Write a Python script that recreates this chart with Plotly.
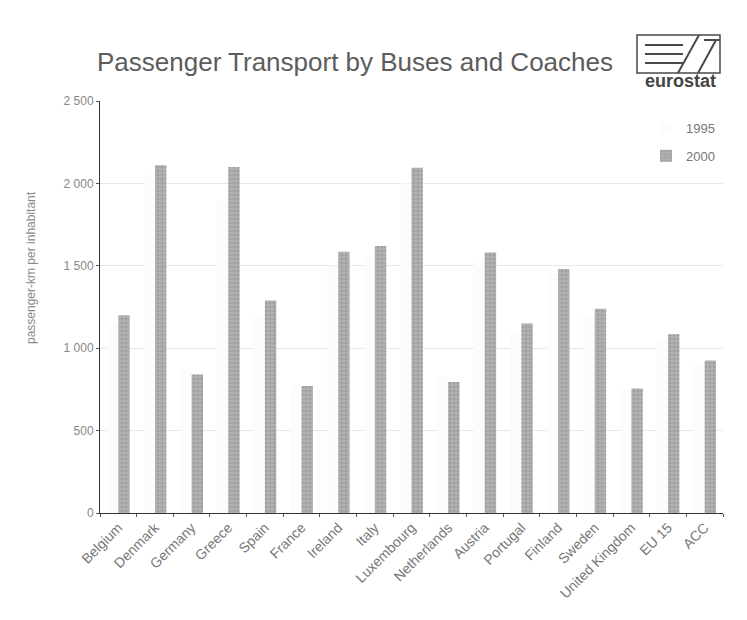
import plotly.graph_objects as go

# Passenger-km per inhabitant by bus and coach
countries = ["Belgium", "Denmark", "Germany", "Greece", "Spain", "France", "Ireland",
             "Italy", "Luxembourg", "Netherlands", "Austria", "Portugal", "Finland",
             "Sweden", "United Kingdom", "EU 15", "ACC"]
values_1995 = [1150, 2050, 880, 1900, 1200, 780, 1500, 1550, 2000, 830, 1550,
               1100, 1450, 1200, 750, 1050, 900]
values_2000 = [1200, 2110, 840, 2100, 1290, 770, 1585, 1620, 2095, 795, 1580,
               1150, 1480, 1240, 755, 1085, 925]
y_tickvals = [0, 500, 1000, 1500, 2000, 2500]
y_ticktext = ["0", "500", "1 000", "1 500", "2 000", "2 500"]

W, H = 747, 620
L, R, T, B = 100, 24, 101, 107
PW, PH = W - L - R, H - T - B


def px(x):
    return (x - L) / PW


def py(y):
    return (H - B - y) / PH


fig = go.Figure()
fig.add_trace(go.Bar(
    x=countries, y=values_1995, name="1995", legendgroup="a",
    marker=dict(color="#fcfcfc", line=dict(width=0)),
))
fig.add_trace(go.Bar(
    x=countries, y=values_2000, name="2000", legendgroup="b",
    marker=dict(color="#a6a6a6", line=dict(width=0),
                pattern=dict(shape=".", fgcolor="#8c8c8c", bgcolor="#b0b0b0",
                             size=4, solidity=0.35)),
))

grey = "#6a6a6a"
shapes = []
# logo frame and strokes
lc = "#4a4a4a"
shapes.append(dict(type="rect", xref="paper", yref="paper",
                   x0=px(637), x1=px(720), y0=py(73), y1=py(35),
                   line=dict(color=lc, width=1.5)))
for yy in (45, 54, 63):
    shapes.append(dict(type="line", xref="paper", yref="paper",
                       x0=px(645), x1=px(683), y0=py(yy), y1=py(yy),
                       line=dict(color=lc, width=2)))
shapes.append(dict(type="line", xref="paper", yref="paper",
                   x0=px(678), x1=px(699), y0=py(73), y1=py(35),
                   line=dict(color=lc, width=2)))
shapes.append(dict(type="line", xref="paper", yref="paper",
                   x0=px(698), x1=px(716), y0=py(73), y1=py(40),
                   line=dict(color=lc, width=2)))
shapes.append(dict(type="line", xref="paper", yref="paper",
                   x0=px(704), x1=px(720), y0=py(40), y1=py(40),
                   line=dict(color=lc, width=2)))

annotations = [
    dict(text="<b>eurostat</b>", xref="paper", yref="paper", x=px(680), y=py(81),
         xanchor="center", yanchor="middle", showarrow=False,
         font=dict(family="Arial, Liberation Sans", size=18, color="#444444")),
    dict(text="passenger-km per inhabitant", xref="paper", yref="paper",
         x=px(31), y=py(268), xanchor="center", yanchor="middle", textangle=-90,
         showarrow=False, font=dict(family="Arial, Liberation Sans", size=12, color="#888888")),
]

fig.update_layout(
    width=W, height=H,
    margin=dict(l=L, r=R, t=T, b=B, autoexpand=False),
    paper_bgcolor="white", plot_bgcolor="white",
    barmode="group", bargap=0.38, bargroupgap=0.0,
    font=dict(family="Arial, Liberation Sans", color=grey),
    title=dict(text="Passenger Transport by Buses and Coaches",
               x=355 / W, xanchor="center", xref="container",
               y=1 - 62 / H, yanchor="middle",
               font=dict(size=26, color="#5c5c5c")),
    legend=dict(x=px(720), xanchor="right", y=py(113), yanchor="top",
                bgcolor="rgba(0,0,0,0)", font=dict(size=13, color="#777777"),
                tracegroupgap=8, itemwidth=30),
    shapes=shapes,
    annotations=annotations,
    xaxis=dict(showline=True, linecolor="#333333", linewidth=1,
               ticks="outside", tickson="boundaries", ticklen=3, tickcolor="#555555",
               tickangle=-45, tickfont=dict(size=14, color="#777777"),
               showgrid=False),
    yaxis=dict(range=[0, 2500], tickvals=y_tickvals, ticktext=y_ticktext,
               showline=True, linecolor="#333333", linewidth=1,
               ticks="outside", ticklen=3, tickcolor="#555555",
               tickfont=dict(size=12, color="#888888"),
               showgrid=True, gridcolor="#e6e6e6", gridwidth=1,
               zeroline=False),
)

fig.write_html("out.html")
